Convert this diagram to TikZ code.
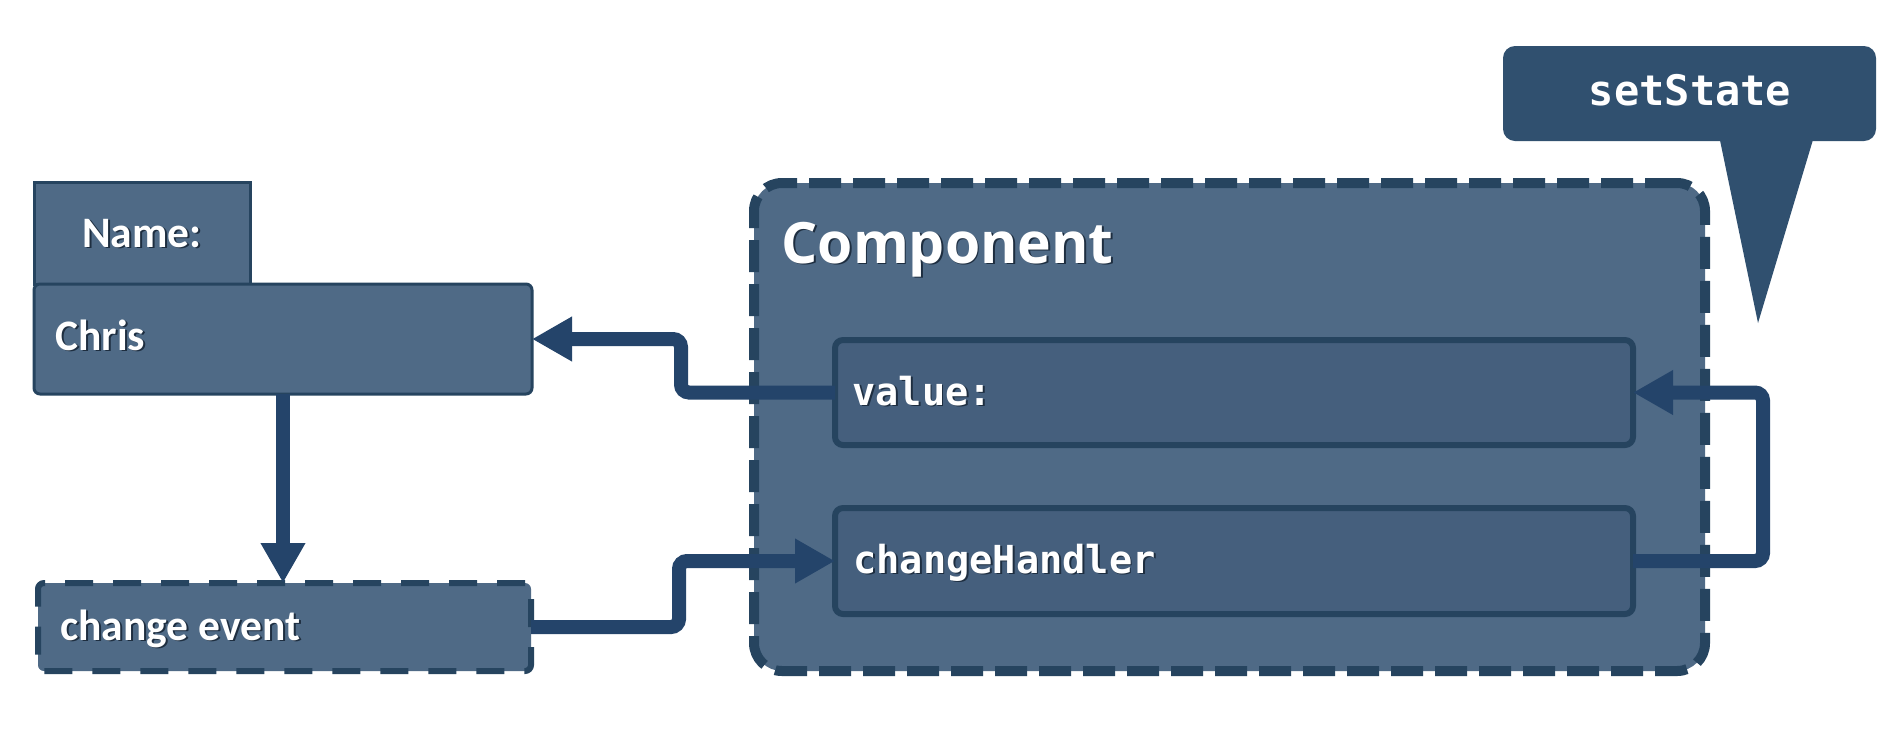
\documentclass[tikz,border=0pt]{standalone}
\usepackage{fontspec}
\usetikzlibrary{arrows.meta,fit,calc}
\newfontfamily\calfont{Carlito}
\newfontfamily\headfont{Open Sans}
\newfontfamily\monofont{DejaVu Sans Mono}
\definecolor{boxfill}{HTML}{4F6A86}
\definecolor{innerfill}{HTML}{455F7D}
\definecolor{edgec}{HTML}{26445F}
\definecolor{arrowc}{HTML}{24446A}
\definecolor{callc}{HTML}{30506F}
\definecolor{shadc}{HTML}{1E2E40}
\newcommand{\shd}[1]{\makebox[0pt][l]{\kern0.9pt\raisebox{-0.9pt}{\textcolor{shadc}{#1}}}#1}
\tikzset{
  plainbox/.style={draw=edgec, fill=boxfill, line width=1.5pt, inner sep=0pt, outer sep=0pt},
  dashbox/.style={draw=edgec, fill=boxfill, line width=3pt, dash pattern=on 14pt off 10pt, rounded corners=3pt, inner sep=0pt, outer sep=0pt},
  compbox/.style={draw=edgec, fill=boxfill, line width=5pt, dash pattern=on 16pt off 6pt, rounded corners=14pt, inner sep=0pt, outer sep=0pt},
  innerbox/.style={draw=edgec, fill=innerfill, line width=3pt, rounded corners=4pt, inner sep=0pt, outer sep=0pt},
  callbox/.style={fill=callc, rounded corners=6pt, inner sep=0pt, outer sep=0pt},
  caltext/.style={text=white, inner sep=0pt, font=\calfont\bfseries\fontsize{21.75}{26}\selectfont},
  monotext/.style={text=white, inner sep=0pt, font=\monofont\bfseries\fontsize{19.3}{23}\selectfont},
  headtext/.style={text=white, inner sep=0pt, font=\headfont\bfseries\fontsize{28.5}{33}\selectfont},
  conn/.style={draw=arrowc, line width=7pt, rounded corners=4pt, -{Triangle[length=20pt,width=21pt]}},
}
\begin{document}
\begin{tikzpicture}[x=0.5pt,y=-0.5pt]
\useasboundingbox[fill=white] (0,0) rectangle (1904,730);
% left boxes
\node[plainbox, fit={(34,182) (250,284)}] (namebox) {};
\node[plainbox, rounded corners=3pt, fit={(34,284) (532,394)}] (chris) {};
\node[caltext, anchor=base] (namet) at (142,247) {\shd{Name:}};
\node[caltext, anchor=base west] (christ) at (55,350) {\shd{Chris}};
\node[dashbox, fit={(38,583) (531,671)}] (change) {};
\node[caltext, anchor=base west] (changet) at (60,640) {\shd{change event}};
% component
\node[compbox, fit={(754,183) (1705,671)}] (comp) {};
\node[headtext, anchor=base west] (compt) at (781,263) {\shd{Component}};
\node[innerbox, fit={(835,340) (1633,445)}] (value) {};
\node[monotext, anchor=base west] (valuet) at (852,405) {\shd{value:}};
\node[innerbox, fit={(835,508) (1633,614)}] (handler) {};
\node[monotext, anchor=base west] (handlert) at (853,573) {\shd{changeHandler}};
% callout
\node[callbox, fit={(1503,46) (1876,141)}] (setstate) {};
\fill[callc] ($(setstate.south)+(30,-3)$) -- ($(setstate.south)+(124,-3)$) -- ($(setstate.south)+(68.5,182)$) -- cycle;
\node[text=white, inner sep=0pt, font=\monofont\bfseries\fontsize{21}{25}\selectfont, anchor=base] (setstatet) at (1690,105) {setState};
% connectors
\draw[conn] (value.west) -- ++(-154,0) |- (chris.east);
\draw[conn] (chris.south) -- (chris.south |- change.north);
\draw[conn] (change.east) -- ++(148,0) |- (handler.west);
\draw[conn] (handler.east) -- ++(130,0) |- (value.east);
\end{tikzpicture}
\end{document}
